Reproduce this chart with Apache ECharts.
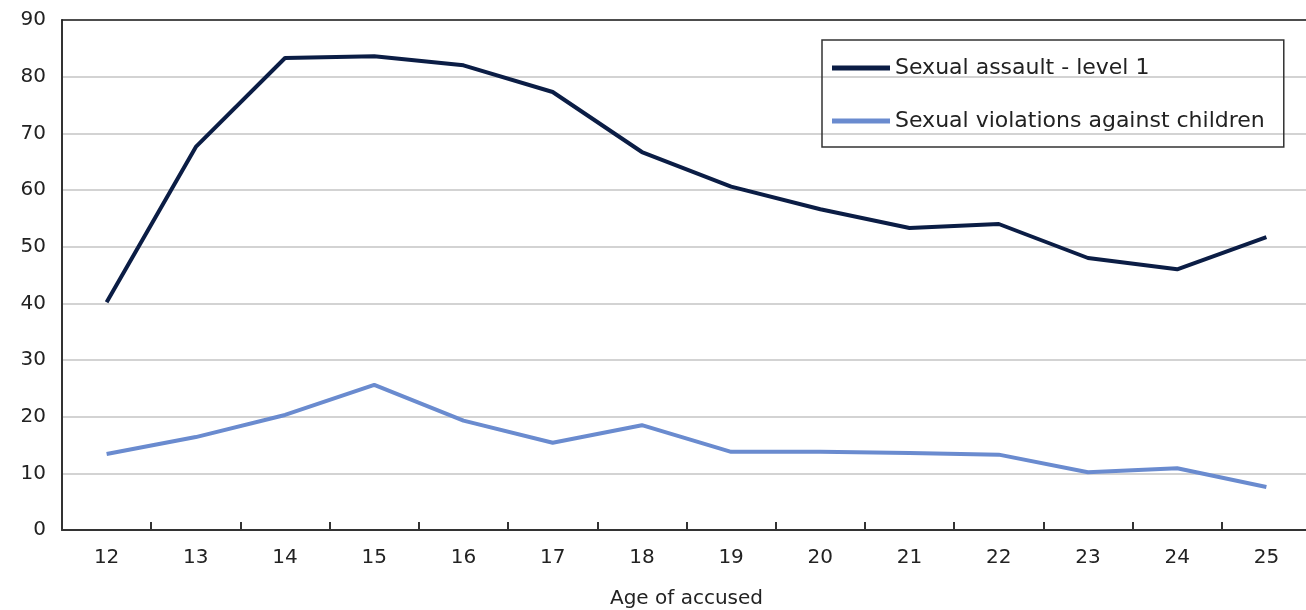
<!DOCTYPE html>
<html lang="en">
<head>
    <meta charset="UTF-8">
    <title>Age of accused</title>
    <style>
        html, body { margin: 0; padding: 0; background: #fff; }
    </style>
</head>
<body>
<div id="main" style="width:1306px;height:610px;"></div>
<script src="https://cdn.jsdelivr.net/npm/echarts@6/dist/echarts.min.js"></script>
<script>
    // ages on the x axis
    var ages = ['12', '13', '14', '15', '16', '17', '18', '19', '20', '21', '22', '23', '24', '25'];
    var assaultLevel1 = [40.2, 67.6, 83.3, 83.6, 82.0, 77.3, 66.7, 60.6, 56.6, 53.3, 54.0, 48.0, 46.0, 51.7];
    var violationsChildren = [13.4, 16.4, 20.3, 25.6, 19.3, 15.4, 18.5, 13.8, 13.8, 13.6, 13.3, 10.2, 10.9, 7.6];
    var seriesNames = ['Sexual assault - level 1', 'Sexual violations against children'];
    var colors = ['#0b1d45', '#6a8bcf'];

    var font = 'DejaVu Sans';
    var myChart = echarts.init(document.getElementById('main'));

    var option = {
        backgroundColor: '#fff',
        animation: false,
        grid: {
            left: 62,
            top: 20,
            width: 1249,
            height: 510,
            outerBoundsMode: 'none'
        },
        legend: {
            orient: 'vertical',
            left: 822,
            top: 40,
            padding: [17, 19, 15, 10],
            itemGap: 31,
            itemWidth: 58,
            itemHeight: 5,
            icon: 'rect',
            borderColor: '#333',
            borderWidth: 1.5,
            textStyle: {
                fontFamily: font,
                fontSize: 22,
                lineHeight: 22,
                color: '#222'
            },
            data: seriesNames
        },
        xAxis: [
            {
                type: 'category',
                data: ages,
                boundaryGap: true,
                name: 'Age of accused',
                nameLocation: 'middle',
                nameGap: 59,
                nameTextStyle: {
                    fontFamily: font,
                    fontSize: 20,
                    color: '#222'
                },
                axisLine: { lineStyle: { color: '#333', width: 2 } },
                axisTick: {
                    show: true,
                    inside: true,
                    length: 8,
                    lineStyle: { color: '#333', width: 2 }
                },
                axisLabel: {
                    margin: 18,
                    fontFamily: font,
                    fontSize: 20,
                    color: '#222'
                },
                splitLine: { show: false }
            },
            {
                // top frame line only
                type: 'category',
                data: ages,
                position: 'top',
                axisLine: { lineStyle: { color: '#222', width: 1.5 } },
                axisTick: { show: false },
                axisLabel: { show: false },
                splitLine: { show: false }
            }
        ],
        yAxis: {
            type: 'value',
            min: 0,
            max: 90,
            interval: 10,
            axisLine: { show: true, lineStyle: { color: '#333', width: 2 } },
            axisTick: { show: false },
            axisLabel: {
                margin: 16,
                fontFamily: font,
                fontSize: 20,
                color: '#222'
            },
            splitLine: { lineStyle: { color: '#c4c4c4', width: 1.5 } }
        },
        series: [
            {
                name: seriesNames[0],
                type: 'line',
                data: assaultLevel1,
                symbol: 'none',
                lineStyle: { color: colors[0], width: 4 },
                itemStyle: { color: colors[0] }
            },
            {
                name: seriesNames[1],
                type: 'line',
                data: violationsChildren,
                symbol: 'none',
                lineStyle: { color: colors[1], width: 4 },
                itemStyle: { color: colors[1] }
            }
        ]
    };
    myChart.setOption(option);
</script>
</body>
</html>
